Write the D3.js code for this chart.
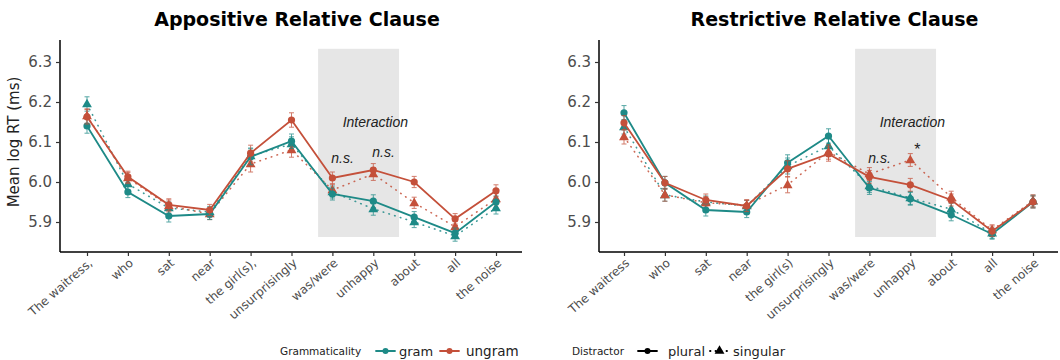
<!DOCTYPE html>
<meta charset="utf-8">
<html>
<head>
  <style>
  body { margin: 0; background: #fff; }
  text { font-family: "DejaVu Sans", sans-serif; }
  .tick text { fill: #4d4d4d; }
  .ttl { font-weight: bold; font-size: 19px; fill: #000; }
  .note { font-family: "Liberation Sans", Arial, sans-serif; font-style: italic; font-size: 14px; fill: #222; }
  </style>
</head>
<body>
<svg width="1060" height="360"></svg>
<script src="https://d3js.org/d3.v7.min.js"></script>
<script>

// words on the x axis
var wordsApp = ["The waitress,", "who", "sat", "near", "the girl(s),", "unsurprisingly",
                "was/were", "unhappy", "about", "all", "the noise"];
var wordsRes = ["The waitress", "who", "sat", "near", "the girl(s)", "unsurprisingly",
                "was/were", "unhappy", "about", "all", "the noise"];

var yTicks = [5.9, 6.0, 6.1, 6.2, 6.3];

// Appositive relative clause, mean log RT
var appGramPlural     = [6.140, 5.975, 5.915, 5.920, 6.063, 6.102, 5.970, 5.952, 5.912, 5.872, 5.950];
var appGramSingular   = [6.195, 5.995, 5.935, 5.925, 6.065, 6.095, 5.975, 5.933, 5.900, 5.865, 5.935];
var appUngramPlural   = [6.163, 6.013, 5.943, 5.930, 6.072, 6.155, 6.010, 6.030, 6.000, 5.908, 5.978];
var appUngramSingular = [6.165, 6.010, 5.940, 5.920, 6.045, 6.080, 5.980, 6.020, 5.948, 5.888, 5.958];

// Restrictive relative clause, mean log RT
var resGramPlural     = [6.173, 5.998, 5.930, 5.925, 6.048, 6.115, 5.985, 5.958, 5.918, 5.870, 5.950];
var resGramSingular   = [6.138, 5.968, 5.950, 5.940, 6.040, 6.090, 5.990, 5.960, 5.932, 5.872, 5.952];
var resUngramPlural   = [6.148, 5.998, 5.955, 5.940, 6.033, 6.070, 6.013, 5.993, 5.955, 5.877, 5.950];
var resUngramSingular = [6.113, 5.968, 5.948, 5.942, 5.993, 6.075, 6.020, 6.055, 5.962, 5.880, 5.953];

// standard errors
var appSE = [0.018, 0.014, 0.015, 0.014, 0.020, 0.018, 0.015, 0.016, 0.014, 0.013, 0.015];
var resSE = [0.018, 0.016, 0.015, 0.014, 0.020, 0.018, 0.016, 0.016, 0.015, 0.013, 0.015];

// interaction labels: word index and height (log RT units)
var appNotes = [{ i: 6, t: "n.s.", v: 6.048 }, { i: 7, t: "n.s.", v: 6.063 }];
var resNotes = [{ i: 6, t: "n.s.", v: 6.048 }, { i: 7, t: "*", v: 6.068 }];

var colGram = "#1e8a87", colUngram = "#c4503a";

var svg = d3.select("svg");

var y = d3.scaleLinear().domain([5.825, 6.355]).range([252, 40]);

var panels = [
  { title: "Appositive Relative Clause", words: wordsApp, x0: 60, range: [87, 496], xEnd: 522,
    series: [
      { v: appGramSingular, col: colGram, tri: true },
      { v: appUngramSingular, col: colUngram, tri: true },
      { v: appGramPlural, col: colGram, tri: false },
      { v: appUngramPlural, col: colUngram, tri: false }
    ], se: appSE, notes: appNotes },
  { title: "Restrictive Relative Clause", words: wordsRes, x0: 599, range: [624, 1033], xEnd: 1058,
    series: [
      { v: resGramSingular, col: colGram, tri: true },
      { v: resUngramSingular, col: colUngram, tri: true },
      { v: resGramPlural, col: colGram, tri: false },
      { v: resUngramPlural, col: colUngram, tri: false }
    ], se: resSE, notes: resNotes }
];

var tri = d3.symbol().type(d3.symbolTriangle).size(42);

panels.forEach(function(p) {
  var x = d3.scalePoint().domain(d3.range(p.words.length)).range(p.range);
  var g = svg.append("g");
  var step = x.step();

  // shaded region around was/were - unhappy
  g.append("rect")
    .attr("x", x(6) - 0.35 * step)
    .attr("width", x(7) + 0.63 * step - (x(6) - 0.35 * step))
    .attr("y", y(6.333))
    .attr("height", y(5.8625) - y(6.333))
    .attr("fill", "#e6e6e6");

  g.append("text").attr("class", "note")
    .attr("x", x(6) + 1.05 * step).attr("y", y(6.138))
    .attr("text-anchor", "middle").text("Interaction");

  p.series.forEach(function(s) {
    var line = d3.line().x(function(d, i) { return x(i); }).y(function(d) { return y(d); });
    g.append("path").datum(s.v)
      .attr("d", line)
      .attr("fill", "none")
      .attr("stroke", s.col)
      .attr("stroke-width", s.tri ? 1.6 : 1.8)
      .attr("stroke-linecap", "round")
      .attr("stroke-dasharray", s.tri ? "0.5,5.5" : null)
      .attr("opacity", s.tri ? 0.85 : 1);

    var eb = g.append("g").attr("stroke", s.col).attr("stroke-width", 1).attr("opacity", 0.75);
    s.v.forEach(function(d, i) {
      var xi = x(i), lo = y(d - p.se[i]), hi = y(d + p.se[i]);
      eb.append("line").attr("x1", xi).attr("x2", xi).attr("y1", lo).attr("y2", hi);
      eb.append("line").attr("x1", xi - 2.5).attr("x2", xi + 2.5).attr("y1", lo).attr("y2", lo);
      eb.append("line").attr("x1", xi - 2.5).attr("x2", xi + 2.5).attr("y1", hi).attr("y2", hi);
    });

    if (s.tri) {
      g.selectAll(null).data(s.v).enter().append("path")
        .attr("d", tri)
        .attr("transform", function(d, i) { return "translate(" + x(i) + "," + (y(d) + 0.5) + ")"; })
        .attr("fill", s.col);
    } else {
      g.selectAll(null).data(s.v).enter().append("circle")
        .attr("cx", function(d, i) { return x(i); })
        .attr("cy", function(d) { return y(d); })
        .attr("r", 3.6)
        .attr("fill", s.col);
    }
  });

  // significance notes
  p.notes.forEach(function(n) {
    var star = n.t == "*";
    g.append("text").attr("class", "note")
      .attr("x", x(n.i) + (star ? 0.17 : 0.25) * step).attr("y", y(n.v))
      .attr("text-anchor", "middle")
      .style("font-style", star ? "normal" : null)
      .style("font-size", star ? "16px" : null)
      .text(n.t);
  });

  // axes
  var yAxis = g.append("g").attr("transform", "translate(" + p.x0 + ",0)")
    .call(d3.axisLeft(y).tickValues(yTicks).tickFormat(d3.format(".1f")).tickSizeOuter(0).tickSize(4).tickPadding(4));
  yAxis.select(".domain").attr("d", "M0," + y.range()[1] + "V" + y.range()[0]);
  yAxis.selectAll(".tick text").style("font-size", "15px");

  var xAxis = g.append("g").attr("transform", "translate(0,252)")
    .call(d3.axisBottom(x).tickFormat(function(i) { return p.words[i]; }).tickSizeOuter(0).tickSize(4));
  xAxis.select(".domain").attr("d", "M" + p.x0 + ",0H" + p.xEnd);
  xAxis.selectAll(".tick text")
    .style("font-size", "12px")
    .attr("text-anchor", "end")
    .attr("dy", "0.35em")
    .attr("transform", "translate(3,9) rotate(-41)")
    .attr("x", 0).attr("y", 0);
  g.selectAll(".domain").attr("stroke", "#000").attr("stroke-width", 1.5);
  g.selectAll(".tick line").attr("stroke", "#333").attr("stroke-width", 1.2);

  g.append("text").attr("class", "ttl")
    .attr("x", (p.x0 + p.xEnd) / 2 + 6).attr("y", 26)
    .attr("text-anchor", "middle").text(p.title);
});

svg.append("text")
  .attr("transform", "translate(19,142) rotate(-90)")
  .attr("text-anchor", "middle")
  .style("font-size", "15px").attr("fill", "#222")
  .text("Mean log RT (ms)");

// legend
var leg = svg.append("g").attr("transform", "translate(0,351)");
function keyLine(x0, col, dotted, isTri) {
  leg.append("line").attr("x1", x0).attr("x2", x0 + 19).attr("y1", 0).attr("y2", 0)
    .attr("stroke", col).attr("stroke-width", 1.8)
    .attr("stroke-linecap", "round")
    .attr("stroke-dasharray", dotted ? "0.5,5" : null);
  if (isTri) leg.append("path").attr("d", tri).attr("transform", "translate(" + (x0 + 9.5) + ",0)").attr("fill", col);
  else leg.append("circle").attr("cx", x0 + 9.5).attr("cy", 0).attr("r", 3).attr("fill", col);
}
function legText(x0, size, s) {
  leg.append("text").attr("x", x0).attr("y", 0).attr("dy", "0.35em")
    .style("font-size", size).attr("fill", "#222").text(s);
}
legText(280, "10.5px", "Grammaticality");
keyLine(376, colGram, false, false);
legText(399, "13px", "gram");
keyLine(440, colUngram, false, false);
legText(466, "13.5px", "ungram");
legText(572, "10.5px", "Distractor");
keyLine(638, "#000", false, false);
legText(668, "13px", "plural");
keyLine(710, "#000", true, true);
legText(733, "13px", "singular");

</script>
</body>
</html>
